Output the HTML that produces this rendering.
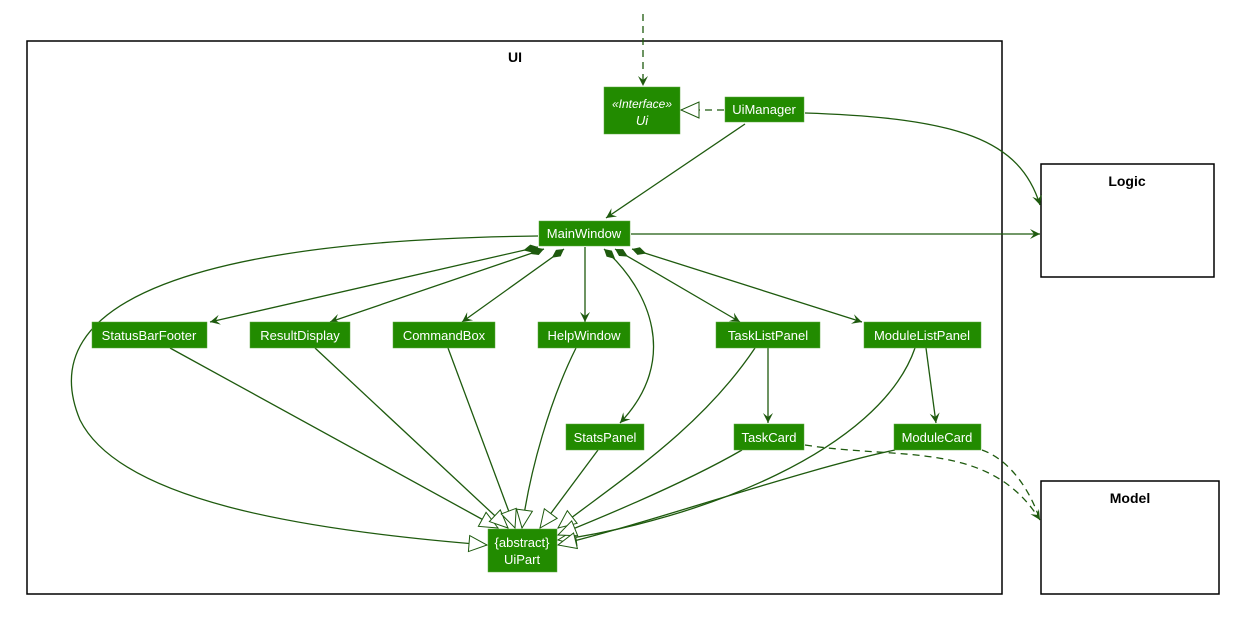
<!DOCTYPE html>
<html><head><style>body{margin:0;background:#fff}svg{display:block}</style></head><body>
<svg width="1244" height="632" viewBox="0 0 1244 632" xmlns="http://www.w3.org/2000/svg" font-family="Liberation Sans, sans-serif">
<defs>
<marker id="a" markerWidth="12" markerHeight="12" refX="10" refY="6" orient="auto" markerUnits="userSpaceOnUse"><path d="M0,1 L10,6 L0,11 L4,6 Z" fill="#1e5a0e"/></marker>
<marker id="t" markerWidth="22" markerHeight="22" refX="19" refY="9" orient="auto" markerUnits="userSpaceOnUse"><path d="M1,1 L19,9 L1,17 Z" fill="#fff" stroke="#1e5a0e" stroke-width="1"/></marker>
<marker id="d" markerWidth="20" markerHeight="12" refX="1" refY="6" orient="auto" markerUnits="userSpaceOnUse"><path d="M1,6 L8,2 L16,6 L8,10 Z" fill="#1e5a0e"/></marker>
</defs>
<rect x="27" y="41" width="975" height="553" fill="#fff" stroke="#000" stroke-width="1.5"/>
<text x="515" y="62" font-size="14" font-weight="bold" text-anchor="middle">UI</text>
<rect x="1041" y="164" width="173" height="113" fill="#fff" stroke="#000" stroke-width="1.5"/>
<text x="1127" y="186" font-size="14" font-weight="bold" text-anchor="middle">Logic</text>
<rect x="1041" y="481" width="178" height="113" fill="#fff" stroke="#000" stroke-width="1.5"/>
<text x="1130" y="503" font-size="14" font-weight="bold" text-anchor="middle">Model</text>
<g fill="none" stroke="#1e5a0e" stroke-width="1.3">
<path d="M643,14 L643,86" stroke-dasharray="7,5" marker-end="url(#a)"/>
<path d="M724,110 L681,110" stroke-dasharray="7,5" marker-end="url(#t)"/>
<path d="M745,124 L606,218" marker-end="url(#a)"/>
<path d="M805,113 C960,118 1020,140 1040,205" marker-end="url(#a)"/>
<path d="M631,234 L1040,234" marker-end="url(#a)"/>
<path d="M538,247 L210,322" marker-start="url(#d)" marker-end="url(#a)"/>
<path d="M544,249 L330,322" marker-start="url(#d)" marker-end="url(#a)"/>
<path d="M564,249 L462,322" marker-start="url(#d)" marker-end="url(#a)"/>
<path d="M585,247 L585,322" marker-end="url(#a)"/>
<path d="M604,249 C650,290 680,360 620,423" marker-start="url(#d)" marker-end="url(#a)"/>
<path d="M615,249 L740,322" marker-start="url(#d)" marker-end="url(#a)"/>
<path d="M632,249 L862,322" marker-start="url(#d)" marker-end="url(#a)"/>
<path d="M768,348 L768,423" marker-end="url(#a)"/>
<path d="M926,348 L936,423" marker-end="url(#a)"/>
<path d="M538,236 C200,240 30,300 80,420 C120,500 300,530 487,545" marker-end="url(#t)"/>
<path d="M170,348 L498,528" marker-end="url(#t)"/>
<path d="M315,348 L508,528" marker-end="url(#t)"/>
<path d="M448,348 L515,528" marker-end="url(#t)"/>
<path d="M576,348 C550,400 530,470 522,528" marker-end="url(#t)"/>
<path d="M598,450 L540,528" marker-end="url(#t)"/>
<path d="M755,348 C700,430 620,480 558,528" marker-end="url(#t)"/>
<path d="M915,348 C880,450 700,520 558,540" marker-end="url(#t)"/>
<path d="M742,450 C690,480 620,510 558,535" marker-end="url(#t)"/>
<path d="M895,450 C800,470 660,520 558,545" marker-end="url(#t)"/>
<path d="M805,445 C900,460 990,440 1040,520" stroke-dasharray="7,5" marker-end="url(#a)"/>
<path d="M982,450 C1010,460 1030,490 1040,520" stroke-dasharray="7,5"/>
</g>
<g fill="#228b00" stroke="#5fa840" stroke-width="0.5">
<rect x="604" y="87" width="76" height="47"/>
<rect x="725" y="97" width="79" height="25"/>
<rect x="539" y="221" width="91" height="25"/>
<rect x="92" y="322" width="115" height="26"/>
<rect x="250" y="322" width="100" height="26"/>
<rect x="393" y="322" width="102" height="26"/>
<rect x="538" y="322" width="92" height="26"/>
<rect x="716" y="322" width="104" height="26"/>
<rect x="864" y="322" width="117" height="26"/>
<rect x="566" y="424" width="78" height="26"/>
<rect x="734" y="424" width="70" height="26"/>
<rect x="894" y="424" width="87" height="26"/>
<rect x="488" y="529" width="69" height="43"/>
</g>
<g fill="#fff" font-size="13" text-anchor="middle">
<text x="642" y="108" font-style="italic" font-size="12">«Interface»</text>
<text x="642" y="125" font-style="italic">Ui</text>
<text x="764" y="114">UiManager</text>
<text x="584" y="238">MainWindow</text>
<text x="149" y="340">StatusBarFooter</text>
<text x="300" y="340">ResultDisplay</text>
<text x="444" y="340">CommandBox</text>
<text x="584" y="340">HelpWindow</text>
<text x="768" y="340">TaskListPanel</text>
<text x="922" y="340">ModuleListPanel</text>
<text x="605" y="442">StatsPanel</text>
<text x="769" y="442">TaskCard</text>
<text x="937" y="442">ModuleCard</text>
<text x="522" y="547">{abstract}</text>
<text x="522" y="564">UiPart</text>
</g>
</svg>
</body></html>
